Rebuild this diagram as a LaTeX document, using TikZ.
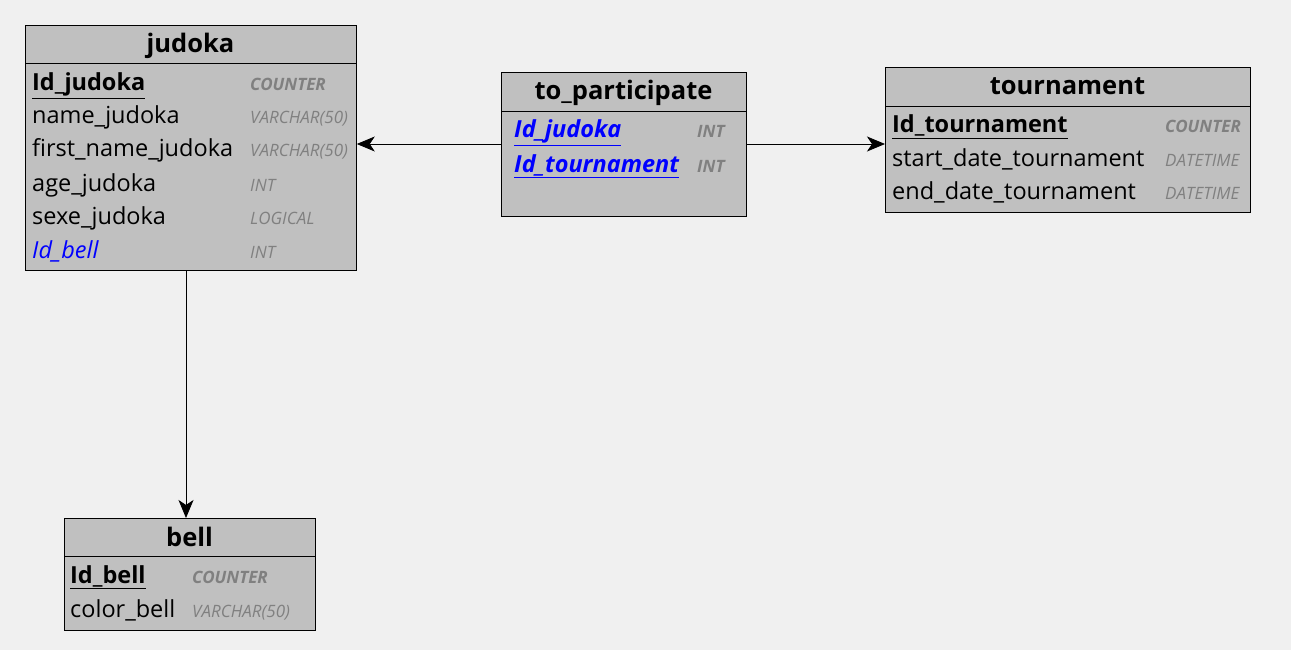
\documentclass[tikz,border=0pt]{standalone}
\usepackage{fontspec}
\setmainfont{Open Sans}
\usetikzlibrary{arrows.meta}
\definecolor{bg}{HTML}{F0F0F0}
\definecolor{boxfill}{HTML}{C0C0C0}
\definecolor{typegray}{HTML}{808080}
\definecolor{fkblue}{HTML}{0000FF}
\begin{document}
\begin{tikzpicture}[x=1pt,y=-1pt,
  tbl/.style={draw=black, line width=0.8pt, fill=boxfill, anchor=north west, inner sep=0pt},
  ttl/.style={font=\fontsize{25.5}{28}\selectfont\bfseries, inner sep=0pt, anchor=base},
  fld/.style={font=\fontsize{23.5}{27}\selectfont, anchor=base west, inner sep=0pt},
  fldk/.style={fld, font=\fontsize{23.5}{27}\selectfont\bfseries},
  fldfk/.style={fld, font=\fontsize{23.5}{27}\selectfont\itshape, text=fkblue},
  fldfkk/.style={fld, font=\fontsize{23.5}{27}\selectfont\bfseries\itshape, text=fkblue},
  typ/.style={font=\fontsize{17}{20}\selectfont\itshape, text=typegray, anchor=base west, inner sep=0pt},
  typk/.style={typ, font=\fontsize{17}{20}\selectfont\bfseries\itshape},
  rel/.style={draw=black, line width=0.8pt, -{Stealth[length=18pt,width=15pt,inset=5pt]}}
]
\fill[bg] (0,0) rectangle (1291,650);
\useasboundingbox (0,0) rectangle (1291,650);

% judoka
\node[tbl, minimum width=331pt, minimum height=245pt] (judoka) at (25,25) {};
\draw[line width=0.8pt] (25,63) -- (356,63);
\node[ttl] (tj) at (190.5,53) {judoka};
\node[fldk] (j1) at (32,91) {\underline{Id\_judoka}};
\node[typk] (j1t) at (250,91) {COUNTER};
\node[fld] (j2) at (32,124) {name\_judoka};
\node[typ] (j2t) at (250,124) {VARCHAR(50)};
\node[fld] (j3) at (32,157) {first\_name\_judoka};
\node[typ] (j3t) at (250,157) {VARCHAR(50)};
\node[fld] (j4) at (32,191) {age\_judoka};
\node[typ] (j4t) at (250,191) {INT};
\node[fld] (j5) at (32,224) {sexe\_judoka};
\node[typ] (j5t) at (250,224) {LOGICAL};
\node[fldfk] (j6) at (32,258) {Id\_bell};
\node[typ] (j6t) at (250,258) {INT};

% to_participate
\node[tbl, minimum width=245pt, minimum height=144pt] (part) at (501,72) {};
\draw[line width=0.8pt] (501,111) -- (746,111);
\node[ttl] (tp) at (623.5,100) {to\_participate};
\node[fldfkk] (p1) at (514,138) {\underline{Id\_judoka}};
\node[typk] (p1t) at (697,138) {INT};
\node[fldfkk] (p2) at (514,172) {\underline{Id\_tournament}};
\node[typk] (p2t) at (697,172) {INT};

% tournament
\node[tbl, minimum width=365pt, minimum height=145pt] (tour) at (885,67) {};
\draw[line width=0.8pt] (885,106) -- (1250,106);
\node[ttl] (tt) at (1067.5,95) {tournament};
\node[fldk] (t1) at (892,133) {\underline{Id\_tournament}};
\node[typk] (t1t) at (1165,133) {COUNTER};
\node[fld] (t2) at (892,167) {start\_date\_tournament};
\node[typ] (t2t) at (1165,167) {DATETIME};
\node[fld] (t3) at (892,200) {end\_date\_tournament};
\node[typ] (t3t) at (1165,200) {DATETIME};

% bell
\node[tbl, minimum width=251pt, minimum height=112pt] (bell) at (64,518) {};
\draw[line width=0.8pt] (64,556) -- (315,556);
\node[ttl] (tb) at (189.5,546) {bell};
\node[fldk] (b1) at (70,583) {\underline{Id\_bell}};
\node[typk] (b1t) at (192,583) {COUNTER};
\node[fld] (b2) at (70,617) {color\_bell};
\node[typ] (b2t) at (192,617) {VARCHAR(50)};

% relations
\coordinate (pl) at (part.west |- 0,144);
\coordinate (jr) at (judoka.east |- 0,144);
\coordinate (pr) at (part.east |- 0,144);
\coordinate (tl) at (tour.west |- 0,144);
\coordinate (jb) at (186,270);
\coordinate (bt) at (186,518);
\draw[rel] (pl) -- (jr);
\draw[rel] (pr) -- (tl);
\draw[rel] (jb) -- (bt);
\end{tikzpicture}
\end{document}
